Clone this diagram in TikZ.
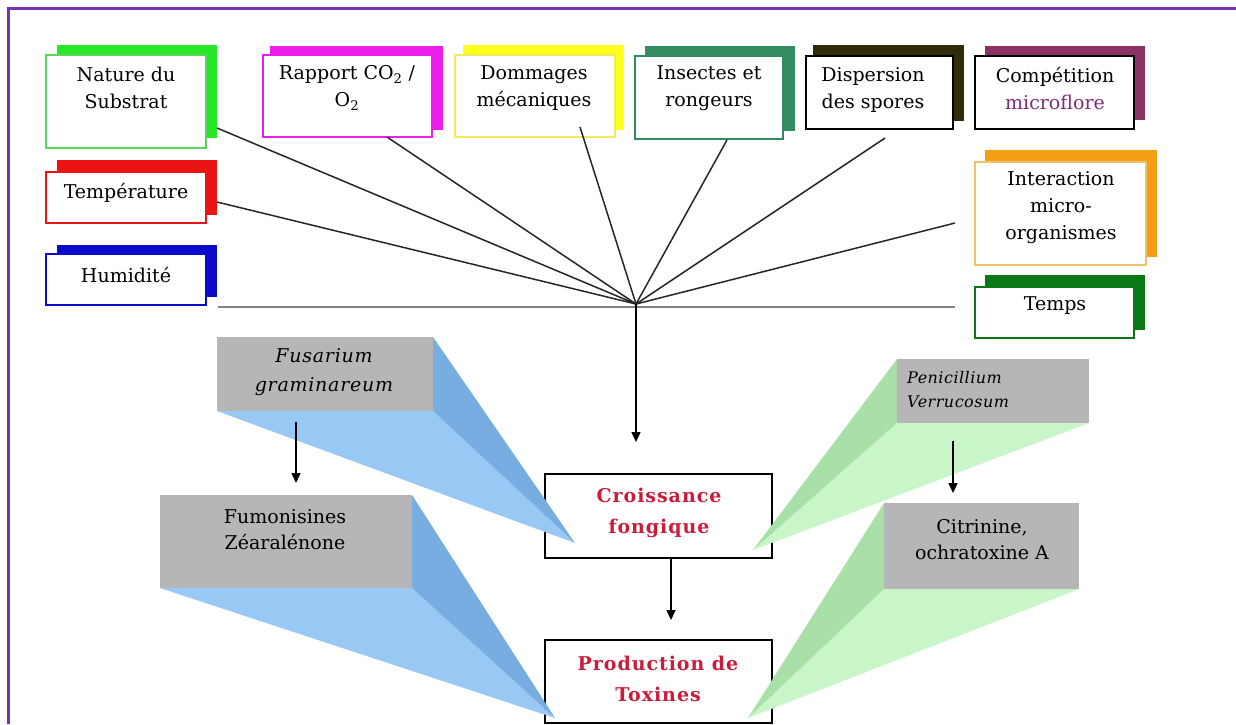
\documentclass[tikz,border=0pt]{standalone}
\usepackage{fontspec}
\setmainfont{DejaVu Serif}
\usetikzlibrary{fit,arrows.meta}
\definecolor{cframe}{RGB}{118,50,180}
\definecolor{cNat}{RGB}{40,230,40}
\definecolor{cNatB}{RGB}{90,215,90}
\definecolor{cTemp}{RGB}{235,20,20}
\definecolor{cHum}{RGB}{10,10,200}
\definecolor{cRap}{RGB}{235,30,235}
\definecolor{cDom}{RGB}{255,255,30}
\definecolor{cDomB}{RGB}{240,235,90}
\definecolor{cIns}{RGB}{50,140,95}
\definecolor{cDisp}{RGB}{48,44,10}
\definecolor{cComp}{RGB}{140,50,100}
\definecolor{cMicro}{RGB}{125,45,120}
\definecolor{cInt}{RGB}{245,160,20}
\definecolor{cIntB}{RGB}{235,195,110}
\definecolor{cTps}{RGB}{10,120,20}
\definecolor{cRed}{RGB}{200,30,60}
\definecolor{cGray}{RGB}{182,182,182}
\definecolor{cLine}{RGB}{130,130,130}
\definecolor{bLight}{RGB}{152,201,245}
\definecolor{bDark}{RGB}{120,173,226}
\definecolor{gLight}{RGB}{200,246,200}
\definecolor{gDark}{RGB}{168,224,168}
\begin{document}
\begin{tikzpicture}[x=1pt,y=-1pt,
  font=\fontsize{19}{27}\selectfont,
  front/.style={draw=#1, fill=white, line width=1.6pt, inner sep=0pt},
  lbl/.style={align=center, inner sep=0pt, anchor=center},
  conn/.style={line width=1.5pt, black!85},
  arr/.style={line width=1.5pt, -{Triangle[length=10pt,width=9pt]}},
  graybox/.style={fill=cGray, inner sep=0pt},
  redtxt/.style={lbl, text=cRed, font=\fontsize{19}{31}\selectfont\bfseries\addfontfeature{LetterSpace=5}},
  itl/.style={lbl, font=\fontsize{19}{29}\selectfont\itshape\addfontfeature{LetterSpace=4}}
]
\useasboundingbox (0,0) rectangle (1236,724);
\fill[white] (0,0) rectangle (1236,724);
\draw[cframe, line width=3pt] (8,724) -- (8,8) -- (1236,8);

% horizontal base line
\draw[cLine, line width=2.8pt] (218,307) -- (955,307);

% ---- top factor boxes (shadow + front) ----
\fill[cNat] (57,45) rectangle (217,138);
\node[front=cNatB, fit={(46,55) (206,148)}] (nat) {};
\node[lbl] (natT) at (126,88) {Nature du\\Substrat};

\fill[cTemp] (57,160) rectangle (217,215);
\node[front=cTemp, fit={(46,172) (206,223)}] (temp) {};
\node[lbl] (tempT) at (126,193) {Température};

\fill[cHum] (57,245) rectangle (217,297);
\node[front=cHum, fit={(46,254) (206,305)}] (hum) {};
\node[lbl] (humT) at (126,275) {Humidité};

\fill[cRap] (270,46) rectangle (443,130);
\node[front=cRap, fit={(263,55) (432,137)}] (rap) {};
\node[lbl] (rapT) at (347,88) {Rapport CO\textsubscript{2} /\\O\textsubscript{2}};

\fill[cDom] (463,45) rectangle (623,130);
\node[front=cDomB, fit={(455,55) (615,137)}] (dom) {};
\node[lbl] (domT) at (534,88) {Dommages\\mécaniques};

\fill[cIns] (645,46) rectangle (795,131);
\node[front=cIns, fit={(635,56) (783,139)}] (ins) {};
\node[lbl] (insT) at (709,88) {Insectes et\\rongeurs};

\fill[cDisp] (813,45) rectangle (964,121);
\node[front=black, fit={(806,56) (953,129)}] (disp) {};
\node[lbl] (dispT) at (873,90) {Dispersion\\des spores};

\fill[cComp] (985,46) rectangle (1145,120);
\node[front=black, fit={(975,56) (1134,129)}] (comp) {};
\node[lbl] (compT) at (1055,89) {Compétition\\\textcolor{cMicro}{microflore}};

\fill[cInt] (985,150) rectangle (1157,257);
\node[front=cIntB, fit={(975,162) (1146,265)}] (inter) {};
\node[lbl] (interT) at (1061,208) {Interaction\\micro-\\organismes};

\fill[cTps] (985,275) rectangle (1145,330);
\node[front=cTps, fit={(975,287) (1134,338)}] (tps) {};
\node[lbl] (tpsT) at (1055,306) {Temps};

% ---- connectors to the hub ----
\coordinate (hub) at (636,304);
\coordinate (natP) at (217,128);
\coordinate (tempP) at (217,202);
\coordinate (rapP) at (387,137);
\coordinate (domP) at (580,127);
\coordinate (insP) at (727,140);
\coordinate (dispP) at (885,138);
\coordinate (interP) at (955,223);
\foreach \p in {natP,tempP,rapP,domP,insP,dispP,interP}
  \draw[conn] (\p) -- (hub);

% ---- central boxes ----
\node[front=black, line width=1.5pt, fit={(545,474) (772,558)}] (cro) {};
\node[redtxt] (croT) at (659,513) {Croissance\\fongique};
\node[front=black, line width=1.5pt, fit={(545,640) (772,723)}] (prod) {};
\node[redtxt] (prodT) at (658,679) {Production de\\Toxines};

% ---- 3D wedges ----
\fill[bLight] (217,411) -- (433,411) -- (575,543) -- cycle;
\fill[bDark] (433,337) -- (433,411) -- (575,543) -- cycle;
\fill[bLight] (160,588) -- (412,588) -- (555,718) -- cycle;
\fill[bDark] (412,495) -- (412,588) -- (555,718) -- cycle;
\fill[gLight] (897,423) -- (1089,423) -- (753,550) -- cycle;
\fill[gDark] (897,359) -- (897,423) -- (753,550) -- cycle;
\fill[gLight] (884,589) -- (1079,589) -- (748,718) -- cycle;
\fill[gDark] (884,503) -- (884,589) -- (748,718) -- cycle;

% ---- grey boxes ----
\node[graybox, fit={(217,337) (433,411)}] (fus) {};
\node[itl] (fusT) at (324,372) {Fusarium\\graminareum};
\node[graybox, fit={(160,495) (412,588)}] (fum) {};
\node[lbl, font=\fontsize{19}{26}\selectfont] (fumT) at (285,530) {Fumonisines\\Zéaralénone};
\node[graybox, fit={(897,359) (1089,423)}] (pen) {};
\node[lbl, align=left, anchor=west, font=\fontsize{16}{24}\selectfont\itshape\addfontfeature{LetterSpace=3}] (penT) at (907,390) {Penicillium\\Verrucosum};
\node[graybox, fit={(884,503) (1079,589)}] (cit) {};
\node[lbl, font=\fontsize{19}{26}\selectfont] (citT) at (982,540) {Citrinine,\\ochratoxine A};

% ---- arrows ----
\coordinate (croIn) at (636,442);
\draw[arr] (hub) -- (croIn);
\coordinate (croOut) at (671,558);
\coordinate (prodIn) at (671,620);
\draw[arr] (croOut) -- (prodIn);
\coordinate (fusOut) at (296,422);
\coordinate (fumIn) at (296,483);
\draw[arr] (fusOut) -- (fumIn);
\coordinate (penOut) at (953,441);
\coordinate (citIn) at (953,493);
\draw[arr] (penOut) -- (citIn);
\end{tikzpicture}
\end{document}
